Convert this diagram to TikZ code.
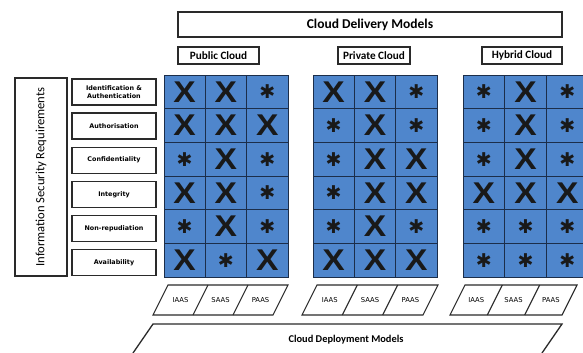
\documentclass[tikz,border=0pt]{standalone}
\usepackage{fontspec}
\setmainfont{Carlito}
\newfontfamily\lblfont{DejaVu Sans}
\newfontfamily\symfont{Liberation Sans}
\definecolor{cellblue}{HTML}{4F86CC}
\definecolor{cellline}{HTML}{1C2E4A}
\definecolor{boxline}{HTML}{2A2A2A}
\tikzset{
  hbox/.style={draw=boxline, line width=1.3pt, fill=white, inner sep=0pt, font=\bfseries\fontsize{13.5}{15}\selectfont},
  cloudbox/.style={draw=boxline, line width=1.3pt, fill=white, inner sep=0pt, minimum height=17pt, font=\bfseries\fontsize{11.2}{12}\selectfont},
  rowbox/.style={draw=boxline, line width=1.3pt, fill=white, inner sep=0pt, minimum width=84pt, minimum height=26pt, align=center, font=\lblfont\bfseries\fontsize{6.4}{7.8}\selectfont},
  cellbox/.style={draw=cellline, line width=0.8pt, fill=cellblue, inner sep=0pt, minimum height=33.7pt},
  xsym/.style={anchor=center, inner sep=0pt, text=black!90, font=\symfont\bfseries\fontsize{30}{30}\selectfont},
  asym/.style={anchor=center, inner sep=0pt, text=black!90, font=\lblfont\bfseries\fontsize{19}{19}\selectfont},
  paral/.style={draw=boxline, line width=1.1pt, fill=white, line join=miter},
  smalltxt/.style={inner sep=0pt, font=\lblfont\fontsize{6.8}{7}\selectfont},
}
\newcommand\putsym[2]{%
  \if*#2\relax
    \node[asym] at (#1.center) {✱};
  \else
    \node[xsym] at (#1.center) {\scalebox{1.12}[1]{X}};
  \fi}
% #1 grid name, #2 left x, #3 column width, #4 rows
\newcommand\symgrid[4]{%
  \foreach \a/\b/\c [count=\i from 0] in {#4} {
    \node[cellbox, minimum width=#3pt] (#1-\i-0) at ({#2+#3*0.5}, {75+33.7*\i+16.85}) {};
    \node[cellbox, minimum width=#3pt] (#1-\i-1) at ({#2+#3*1.5}, {75+33.7*\i+16.85}) {};
    \node[cellbox, minimum width=#3pt] (#1-\i-2) at ({#2+#3*2.5}, {75+33.7*\i+16.85}) {};
    \putsym{#1-\i-0}{\a}
    \putsym{#1-\i-1}{\b}
    \putsym{#1-\i-2}{\c}
  }}
% #1 name, #2 bottom-left x, #3 width
\newcommand\paragroup[3]{%
  \coordinate (#1-bl) at (#2,315);
  \coordinate (#1-tl) at ({#2+15},285);
  \coordinate (#1-tr) at ({#2+15+#3},285);
  \coordinate (#1-br) at ({#2+#3},315);
  \draw[paral] (#1-bl) -- (#1-tl) -- (#1-tr) -- (#1-br) -- cycle;
  \draw[paral] ({#2+#3/3},315) -- ({#2+15+#3/3},285);
  \draw[paral] ({#2+2*#3/3},315) -- ({#2+15+2*#3/3},285);
  \node[smalltxt] (#1-i) at ({#2+7.5+#3/6},300) {IAAS};
  \node[smalltxt] (#1-s) at ({#2+7.5+#3/2},300) {SAAS};
  \node[smalltxt] (#1-p) at ({#2+7.5+5*#3/6},300) {PAAS};
}
\begin{document}
\begin{tikzpicture}[x=1pt,y=-1pt]
\useasboundingbox (0,0) rectangle (583,353);
\fill[white] (0,0) rectangle (583,353);

% headers
\node[hbox, minimum width=384pt, minimum height=25pt] (delivery) at (370,24.5) {Cloud Delivery Models};
\node[cloudbox, minimum width=81pt] (public) at (218.5,55.5) {Public Cloud};
\node[cloudbox, minimum width=72pt] (private) at (374,55.5) {Private Cloud};
\node[cloudbox, minimum width=80pt] (hybrid) at (522,55.5) {Hybrid Cloud};

% left side
\node[draw=boxline, line width=1.3pt, fill=white, minimum width=52pt, minimum height=198pt, inner sep=0pt] (isr) at (41,177) {};
\node[rotate=90, font=\fontsize{12.6}{14}\selectfont] (isrtext) at (isr.center) {Information Security Requirements};

\node[rowbox] (r1) at (114,92) {Identification \&\\Authentication};
\node[rowbox] (r2) at (114,126.1) {Authorisation};
\node[rowbox] (r3) at (114,160.2) {Confidentiality};
\node[rowbox] (r4) at (114,194.3) {Integrity};
\node[rowbox] (r5) at (114,228.4) {Non-repudiation};
\node[rowbox] (r6) at (114,262.5) {Availability};

% grids
\symgrid{pub}{164}{41.3}{X/X/*, X/X/X, */X/*, X/X/*, */X/*, X/*/X}
\symgrid{pri}{313}{41.3}{X/X/*, */X/*, */X/X, */X/X, */X/*, X/X/X}
\symgrid{hyb}{463}{41.7}{*/X/*, */X/*, */X/*, X/X/X, */*/*, */*/*}

% service parallelograms
\paragroup{ppub}{153}{120}
\paragroup{ppri}{302}{121}
\paragroup{phyb}{450}{112}

% deployment models
\coordinate (dl) at (133,353);
\coordinate (dtl) at (153,324);
\coordinate (dtr) at (562,324);
\coordinate (dr) at (542,353);
\draw[paral, line width=1.3pt] (dl) -- (dtl) -- (dtr) -- (dr);
\node[font=\bfseries\fontsize{10.4}{12}\selectfont] (deploy) at (346,340) {Cloud Deployment Models};
\end{tikzpicture}
\end{document}
